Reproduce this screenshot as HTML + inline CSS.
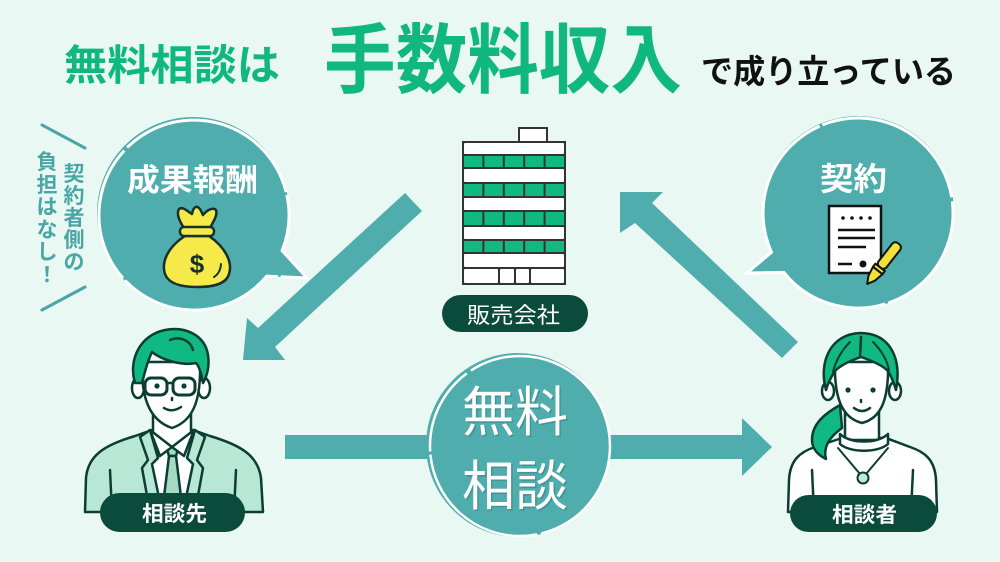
<!DOCTYPE html>
<html><head><meta charset="utf-8">
<style>
html,body{margin:0;padding:0;background:#eaf8f3;}
svg{display:block;}
text{font-family:"Liberation Sans","Noto Sans CJK JP",sans-serif;}
</style></head>
<body>
<svg width="1000" height="562" viewBox="0 0 1000 562" xmlns="http://www.w3.org/2000/svg">
<rect width="1000" height="562" fill="#eaf8f3"/>

<!-- Title -->
<text x="64" y="80" font-size="42" font-weight="700" fill="#10b880" textLength="216" lengthAdjust="spacingAndGlyphs">無料相談は</text>
<text x="324" y="87" font-size="76" font-weight="700" fill="#10b880" textLength="358" lengthAdjust="spacingAndGlyphs">手数料収入</text>
<text x="701" y="83" font-size="33" font-weight="700" fill="#111" textLength="255" lengthAdjust="spacingAndGlyphs">で成り立っている</text>

<!-- vertical side text -->
<g stroke="#4aa6a6" stroke-width="3" stroke-linecap="round">
<line x1="42" y1="125" x2="85" y2="148"/>
<line x1="42" y1="310" x2="85" y2="287"/>
</g>
<g font-size="21" font-weight="700" fill="#4aa6a6" text-anchor="middle">
<text x="74" y="181">契</text><text x="74" y="203">約</text><text x="74" y="225">者</text><text x="74" y="247">側</text><text x="74" y="269">の</text>
<text x="47" y="169">負</text><text x="47" y="192">担</text><text x="47" y="214">は</text><text x="47" y="237">な</text><text x="47" y="259">し</text><text x="47" y="282">！</text>
</g>

<!-- Left bubble -->
<circle cx="193" cy="213" r="96" fill="#50adad"/>
<path d="M266.8,276.1 A95,95 0 1,1 282.1,250.6 L307,278 Z" fill="#50adad" stroke="#ffffff" stroke-width="3" stroke-linejoin="miter" stroke-dasharray="160 3 140 4 200 3 120 3"/>
<text x="127" y="191" font-size="31" font-weight="700" fill="#fff" textLength="131" lengthAdjust="spacingAndGlyphs">成果報酬</text>
<!-- money bag -->
<g stroke="#17302a" stroke-width="2.5" stroke-linejoin="round" fill="#f6ea4a">
<path d="M184,228 C180,222 176,214 179,209 C183,206 188,212 192,214 C193,208 196,205 199,208 C202,211 202,214 203,215 C207,210 213,207 216,210 C218,215 213,222 210,228 Z"/>
<path d="M185,236 C168,247 161,262 165,274 C169,285 184,287 197,287 C211,287 226,285 229,274 C233,262 225,247 209,236 Z"/>
<rect x="180" y="227" width="34" height="9" rx="4"/>
</g>
<path d="M214,277 C219,274 221,268 221,264" stroke="#17302a" stroke-width="2" fill="none" stroke-linecap="round"/>
<text x="197" y="273" font-size="26" font-weight="700" fill="#17302a" text-anchor="middle">$</text>

<!-- Right bubble -->
<circle cx="858" cy="212" r="96" fill="#50adad"/>
<path d="M771.5,252.2 A95,95 0 1,1 783.9,272.4 L747,273 Z" fill="#50adad" stroke="#ffffff" stroke-width="3" stroke-linejoin="miter" stroke-dasharray="150 3 170 4 130 3 200 3"/>
<text x="820" y="190" font-size="32" font-weight="700" fill="#fff" textLength="67" lengthAdjust="spacingAndGlyphs">契約</text>
<!-- document -->
<rect x="829" y="206" width="52" height="67" fill="#fff" stroke="#111" stroke-width="2.5"/>
<g fill="#111">
<circle cx="843" cy="218" r="1.8"/><circle cx="852" cy="218" r="1.8"/><circle cx="861" cy="218" r="1.8"/><circle cx="870" cy="218" r="1.8"/>
<circle cx="863" cy="264" r="3.5"/>
</g>
<g stroke="#111" stroke-width="2.5">
<line x1="838" y1="230" x2="875" y2="230"/>
<line x1="838" y1="238" x2="875" y2="238"/>
<line x1="838" y1="247" x2="866" y2="247"/>
<line x1="838" y1="264" x2="852" y2="264"/>
</g>
<!-- pen -->
<g transform="translate(882,265) rotate(38)" stroke="#111" stroke-width="2" stroke-linejoin="round">
<rect x="-5" y="-27" width="10" height="30" rx="4" fill="#f1e23a"/>
<rect x="-6" y="3" width="12" height="4" fill="#f1e23a"/>
<path d="M-6,7 L6,7 L4,17 L0,24 L-4,17 Z" fill="#f1e23a"/>
</g>

<!-- Diagonal arrows -->
<polygon points="405,193 422,211 275,347 285,360 243,360 247,318 258,328" fill="#50adad"/>
<polygon points="620,192 663,192 652,203 798,342 782,358 635,223 620,233" fill="#50adad"/>

<!-- Building -->
<rect x="519" y="128" width="28" height="14" fill="#fff" stroke="#333" stroke-width="2"/>
<rect x="462" y="141" width="104" height="144" fill="#333"/>
<g fill="#fff">
<rect x="464" y="143" width="100" height="11" rx="1"/>
<rect x="464" y="169" width="100" height="13" rx="1"/>
<rect x="464" y="198" width="100" height="12" rx="1"/>
<rect x="464" y="227" width="100" height="12" rx="1"/>
<rect x="464" y="254" width="100" height="13" rx="1"/>
<rect x="464" y="269" width="34" height="14" rx="1"/>
<rect x="500" y="269" width="14" height="14" rx="1"/>
<rect x="516" y="269" width="13" height="14" rx="1"/>
<rect x="531" y="269" width="33" height="14" rx="1"/>
</g>
<g fill="#10b981">
<rect x="464" y="156" width="18.4" height="11"/><rect x="484.4" y="156" width="18.4" height="11"/><rect x="504.8" y="156" width="18.4" height="11"/><rect x="525.2" y="156" width="18.4" height="11"/><rect x="545.6" y="156" width="18.4" height="11"/>
<rect x="464" y="184" width="18.4" height="12"/><rect x="484.4" y="184" width="18.4" height="12"/><rect x="504.8" y="184" width="18.4" height="12"/><rect x="525.2" y="184" width="18.4" height="12"/><rect x="545.6" y="184" width="18.4" height="12"/>
<rect x="464" y="212" width="18.4" height="13"/><rect x="484.4" y="212" width="18.4" height="13"/><rect x="504.8" y="212" width="18.4" height="13"/><rect x="525.2" y="212" width="18.4" height="13"/><rect x="545.6" y="212" width="18.4" height="13"/>
<rect x="464" y="241" width="18.4" height="11"/><rect x="484.4" y="241" width="18.4" height="11"/><rect x="504.8" y="241" width="18.4" height="11"/><rect x="525.2" y="241" width="18.4" height="11"/><rect x="545.6" y="241" width="18.4" height="11"/>
</g>
<rect x="442" y="295" width="146" height="37" rx="18.5" fill="#0b4b3c"/>
<text x="467" y="323" font-size="22" fill="#fff" textLength="93" lengthAdjust="spacingAndGlyphs">販売会社</text>

<!-- Horizontal arrow -->
<rect x="285" y="435" width="150" height="24" fill="#50adad"/>
<rect x="600" y="435" width="143" height="24" fill="#50adad"/>
<polygon points="742,418 772,447 742,476" fill="#50adad"/>

<!-- Center circle -->
<circle cx="518" cy="445" r="92" fill="#50adad"/>
<circle cx="520" cy="446" r="90" fill="none" stroke="#fff" stroke-width="2.5" stroke-dasharray="120 4 150 3 90 5 200 3"/>
<g font-size="54">
<text x="463.5" y="432.5" fill="#3a8585" opacity="0.6" textLength="106" lengthAdjust="spacingAndGlyphs">無料</text>
<text x="463.5" y="506.5" fill="#3a8585" opacity="0.6" textLength="106" lengthAdjust="spacingAndGlyphs">相談</text>
<text x="462" y="431" fill="#fff" textLength="106" lengthAdjust="spacingAndGlyphs">無料</text>
<text x="462" y="505" fill="#fff" textLength="106" lengthAdjust="spacingAndGlyphs">相談</text>
</g>

<!-- Left person (man) -->
<g stroke="#0b3d32" stroke-width="2.5" stroke-linejoin="round" stroke-linecap="round">
<path d="M85,512 L86,478 C88,455 105,445 135,436 L152,430 L193,430 L210,436 C240,445 258,455 261,478 L263,512 Z" fill="#b8e8d5"/>
<polygon points="148,432 197,432 188,512 157,512" fill="#fff"/>
<path d="M166,446 L179,446 L176,456 L169,456 Z" fill="#a5d9c4"/>
<path d="M169,456 L176,456 L182,505 L172,512 L163,505 Z" fill="#a5d9c4"/>
<path d="M140,437 L150,430 L158,458 L152,464 L162,512 L150,512 L142,468 L148,460 Z" fill="#b8e8d5"/>
<path d="M205,437 L195,430 L187,458 L193,464 L183,512 L195,512 L203,468 L197,460 Z" fill="#b8e8d5"/>
<path d="M153,410 L153,436 L172,447 L191,436 L191,410 Z" fill="#fff"/>
<path d="M150,430 L172,447 L160,456 Z" fill="#fff"/>
<path d="M194,430 L172,447 L184,456 Z" fill="#fff"/>
<line x1="110" y1="470" x2="112" y2="512"/>
<line x1="236" y1="470" x2="234" y2="512"/>
<ellipse cx="138" cy="388" rx="6" ry="10" fill="#fff"/>
<ellipse cx="204" cy="388" rx="6" ry="10" fill="#fff"/>
<path d="M142,362 C141,395 148,420 172,428 C196,420 201,395 200,362 Z" fill="#fff"/>
<path d="M135,383 C128,360 140,335 165,330 C185,326 205,335 208,355 C210,368 206,378 203,383 C201,372 199,366 196,363 C182,366 162,360 152,352 C147,362 145,372 142,383 Z" fill="#10b981"/>
<path d="M170,340 C180,336 190,340 193,350" fill="none"/>
<rect x="145" y="378" width="22" height="17" rx="6" fill="none" stroke-width="3"/>
<rect x="173" y="378" width="22" height="17" rx="6" fill="none" stroke-width="3"/>
<line x1="167" y1="383" x2="173" y2="383"/>
<path d="M164,408 Q172,413 181,407" fill="none"/>
<line x1="172" y1="398" x2="172" y2="400"/>
</g>
<circle cx="157" cy="386" r="2.6" fill="#0b3d32"/>
<circle cx="184" cy="386" r="2.6" fill="#0b3d32"/>
<rect x="100" y="493" width="145" height="39" rx="19.5" fill="#0b4b3c"/>
<text x="142" y="521" font-size="21" font-weight="700" fill="#fff" textLength="65" lengthAdjust="spacingAndGlyphs">相談先</text>

<!-- Right person (woman) -->
<g stroke="#0b3d32" stroke-width="2.5" stroke-linejoin="round" stroke-linecap="round">
<path d="M788,512 L789,480 C790,460 800,452 815,447 L842,438 L886,438 L910,447 C925,452 935,460 936,480 L937,512 Z" fill="#fff"/>
<line x1="812" y1="470" x2="814" y2="512"/>
<line x1="913" y1="470" x2="911" y2="512"/>
<path d="M845,410 L845,440 L879,440 L879,410 Z" fill="#fff"/>
<path d="M840,434 C850,444 878,444 888,434 L888,444 C878,453 850,453 840,444 Z" fill="#fff"/>
<path d="M838,448 L860,474" fill="none" stroke-width="2"/>
<path d="M888,448 L866,474" fill="none" stroke-width="2"/>
<circle cx="863" cy="478" r="5.5" fill="#bfe9d8" stroke-width="2"/>
<path d="M840,405 C826,413 812,423 812,440 C812,450 820,456 826,459 C823,448 828,438 842,428 Z" fill="#10b981"/>
<ellipse cx="828" cy="391" rx="6" ry="9" fill="#fff"/>
<ellipse cx="895" cy="391" rx="6" ry="9" fill="#fff"/>
<path d="M835,362 C834,398 842,418 862,423 C882,418 889,398 888,362 Z" fill="#fff"/>
<path d="M826,390 C818,360 832,334 860,333 C890,333 902,358 896,390 C893,380 890,374 887,370 C880,364 870,360 861,357 C852,360 842,364 835,371 C831,377 828,383 826,390 Z" fill="#10b981"/>
<path d="M861,337 L860,357" fill="none"/>
<path d="M850,342 C842,350 836,360 833,372" fill="none" stroke-width="2"/>
<path d="M873,342 C881,350 887,360 889,370" fill="none" stroke-width="2"/>
<path d="M854,408 Q862,414 870,408" fill="none"/>
<line x1="861" y1="400" x2="861" y2="402"/>
</g>
<circle cx="848" cy="390" r="2.6" fill="#0b3d32"/>
<circle cx="873" cy="390" r="2.6" fill="#0b3d32"/>
<rect x="790" y="495" width="147" height="37" rx="18.5" fill="#0b4b3c"/>
<text x="832" y="522" font-size="21" font-weight="700" fill="#fff" textLength="65" lengthAdjust="spacingAndGlyphs">相談者</text>
</svg>
</body></html>
